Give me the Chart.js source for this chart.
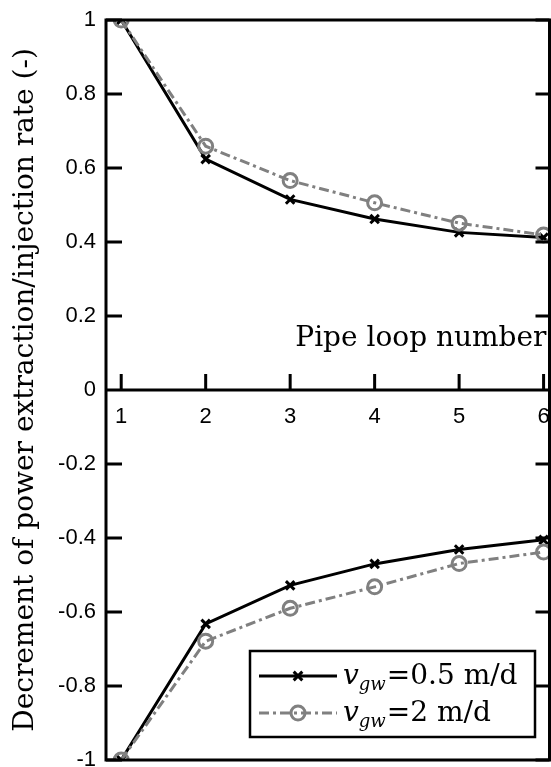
<!DOCTYPE html>
<html>
<head>
<meta charset="utf-8">
<script src="https://cdn.jsdelivr.net/npm/chart.js@4.4.1/dist/chart.umd.min.js"></script>
<style>
  html, body { margin: 0; padding: 0; background: #fff; }
  #myChart { display: block; }
</style>
</head>
<body>
<canvas id="myChart" width="551" height="767"></canvas>
<script>
// pipe loop numbers
var loops = [1, 2, 3, 4, 5, 6];
// upper half: extraction, lower half: injection
var slowUp = [1, 0.624, 0.515, 0.462, 0.426, 0.412];
var fastUp = [1, 0.659, 0.566, 0.506, 0.451, 0.419];
var slowDown = [-1, -0.632, -0.528, -0.470, -0.431, -0.405];
var fastDown = [-1, -0.679, -0.590, -0.532, -0.469, -0.438];
var velocities = ['0.5', '2'];
var yTicks = [1, 0.8, 0.6, 0.4, 0.2, 0, -0.2, -0.4, -0.6, -0.8, -1];
var yLabels = ['1', '0.8', '0.6', '0.4', '0.2', '0', '-0.2', '-0.4', '-0.6', '-0.8', '-1'];

var black = '#000000';
var grey = '#808080';
var serif = "'DejaVu Serif', serif";
var sans = "'Liberation Sans', Arial, sans-serif";

function pts(vals) {
  return loops.map(function (l, i) { return { x: l, y: vals[i] }; });
}

var slowStyle = {
  borderColor: black, borderWidth: 3, pointStyle: 'crossRot', pointRadius: 6,
  pointBorderWidth: 3, pointBorderColor: black, pointBackgroundColor: black, fill: false, tension: 0
};
var fastStyle = {
  borderColor: grey, borderWidth: 3, borderDash: [10, 4, 3, 4], pointStyle: 'circle', pointRadius: 7,
  pointBorderWidth: 3, pointBorderColor: grey, pointBackgroundColor: 'rgba(0,0,0,0)', fill: false, tension: 0
};

// frame, inner ticks, zero axis, x label and legend
var framePlugin = {
  id: 'frame',
  afterDraw: function (chart) {
    var ctx = chart.ctx, a = chart.chartArea;
    var xs = chart.scales.x, ys = chart.scales.y;
    var y0 = ys.getPixelForValue(0);
    ctx.save();
    ctx.strokeStyle = black;
    ctx.lineWidth = 3;
    ctx.strokeRect(a.left, a.top, a.right - a.left, a.bottom - a.top);
    ctx.beginPath();
    ctx.moveTo(a.left, y0); ctx.lineTo(a.right, y0);
    yTicks.forEach(function (v) {
      var py = ys.getPixelForValue(v);
      ctx.moveTo(a.left, py); ctx.lineTo(a.left + 16, py);
      ctx.moveTo(a.right, py); ctx.lineTo(a.right - 14, py);
    });
    loops.forEach(function (l) {
      var px = xs.getPixelForValue(l);
      ctx.moveTo(px, y0); ctx.lineTo(px, y0 - 16);
    });
    ctx.stroke();

    // x axis title
    ctx.fillStyle = black;
    ctx.font = '28px ' + serif;
    ctx.textAlign = 'right';
    ctx.textBaseline = 'alphabetic';
    ctx.fillText('Pipe loop number', a.right - 3, y0 - 44);

    // legend
    var bx = a.left + 144, by = a.bottom - 109, bw = 285, bh = 86;
    ctx.fillStyle = '#fff';
    ctx.fillRect(bx, by, bw, bh);
    ctx.lineWidth = 2.5;
    ctx.strokeRect(bx, by, bw, bh);
    var styles = [slowStyle, fastStyle];
    styles.forEach(function (s, i) {
      var cy = by + 25 + i * 37;
      var mx = bx + 48;
      ctx.save();
      ctx.strokeStyle = s.borderColor;
      ctx.lineWidth = 3;
      ctx.setLineDash(s.borderDash || []);
      ctx.beginPath();
      ctx.moveTo(bx + 9, cy); ctx.lineTo(bx + 87, cy);
      ctx.stroke();
      ctx.restore();
      ctx.strokeStyle = s.pointBorderColor;
      ctx.lineWidth = s.pointBorderWidth;
      ctx.beginPath();
      if (s.pointStyle === 'circle') {
        ctx.arc(mx, cy, s.pointRadius, 0, Math.PI * 2);
      } else {
        var r = s.pointRadius * 0.72;
        ctx.moveTo(mx - r, cy - r); ctx.lineTo(mx + r, cy + r);
        ctx.moveTo(mx + r, cy - r); ctx.lineTo(mx - r, cy + r);
      }
      ctx.stroke();

      ctx.fillStyle = black;
      ctx.textAlign = 'left';
      ctx.textBaseline = 'alphabetic';
      var tx = bx + 93, base = cy + 8;
      ctx.font = 'italic 28px ' + serif;
      ctx.fillText('v', tx, base);
      tx += ctx.measureText('v').width;
      ctx.font = 'italic 18px ' + serif;
      ctx.fillText('gw', tx, base + 6);
      tx += ctx.measureText('gw').width + 1;
      ctx.font = '28px ' + serif;
      ctx.fillText('=' + velocities[i] + ' m/d', tx, base);
    });
    ctx.restore();
  }
};

var config = {
  type: 'line',
  data: {
    datasets: [
      Object.assign({ label: 'v_gw=2 m/d up', data: pts(fastUp) }, fastStyle),
      Object.assign({ label: 'v_gw=2 m/d down', data: pts(fastDown) }, fastStyle),
      Object.assign({ label: 'v_gw=0.5 m/d up', data: pts(slowUp) }, slowStyle),
      Object.assign({ label: 'v_gw=0.5 m/d down', data: pts(slowDown) }, slowStyle)
    ]
  },
  options: {
    responsive: false,
    devicePixelRatio: 1,
    animation: false,
    layout: { autoPadding: false, padding: { top: 20, right: 1.5, bottom: 7, left: 0 } },
    plugins: {
      legend: { display: false },
      tooltip: { enabled: false }
    },
    scales: {
      x: {
        type: 'linear',
        position: { y: 0 },
        min: 0.82,
        max: 6.07,
        grid: { display: false, drawTicks: false },
        border: { display: false },
        afterFit: function (s) { s.paddingLeft = 0; s.paddingRight = 0; s.paddingTop = 0; s.paddingBottom = 0; },
        afterBuildTicks: function (s) { s.ticks = loops.map(function (v) { return { value: v }; }); },
        ticks: {
          color: black,
          padding: 14,
          font: { family: sans, size: 22 },
          callback: function (v) { return String(v); }
        }
      },
      y: {
        type: 'linear',
        min: -1,
        max: 1,
        grid: { display: false, drawTicks: false },
        border: { display: false },
        afterFit: function (s) { s.width = 106; s.paddingTop = 0; s.paddingBottom = 0; s.paddingLeft = 0; s.paddingRight = 0; },
        afterBuildTicks: function (s) { s.ticks = yTicks.map(function (v) { return { value: v }; }); },
        ticks: {
          color: black,
          padding: 10,
          font: { family: sans, size: 22 },
          callback: function (v) { return yLabels[yTicks.indexOf(v)]; }
        },
        title: {
          display: true,
          text: 'Decrement of power extraction/injection rate (-)',
          color: black,
          font: { family: serif, size: 28 },
          padding: { top: 9, bottom: 0 }
        }
      }
    }
  },
  plugins: [framePlugin]
};

var ctx = document.getElementById('myChart').getContext('2d');
var grafica = new Chart(ctx, config);
</script>
</body>
</html>
